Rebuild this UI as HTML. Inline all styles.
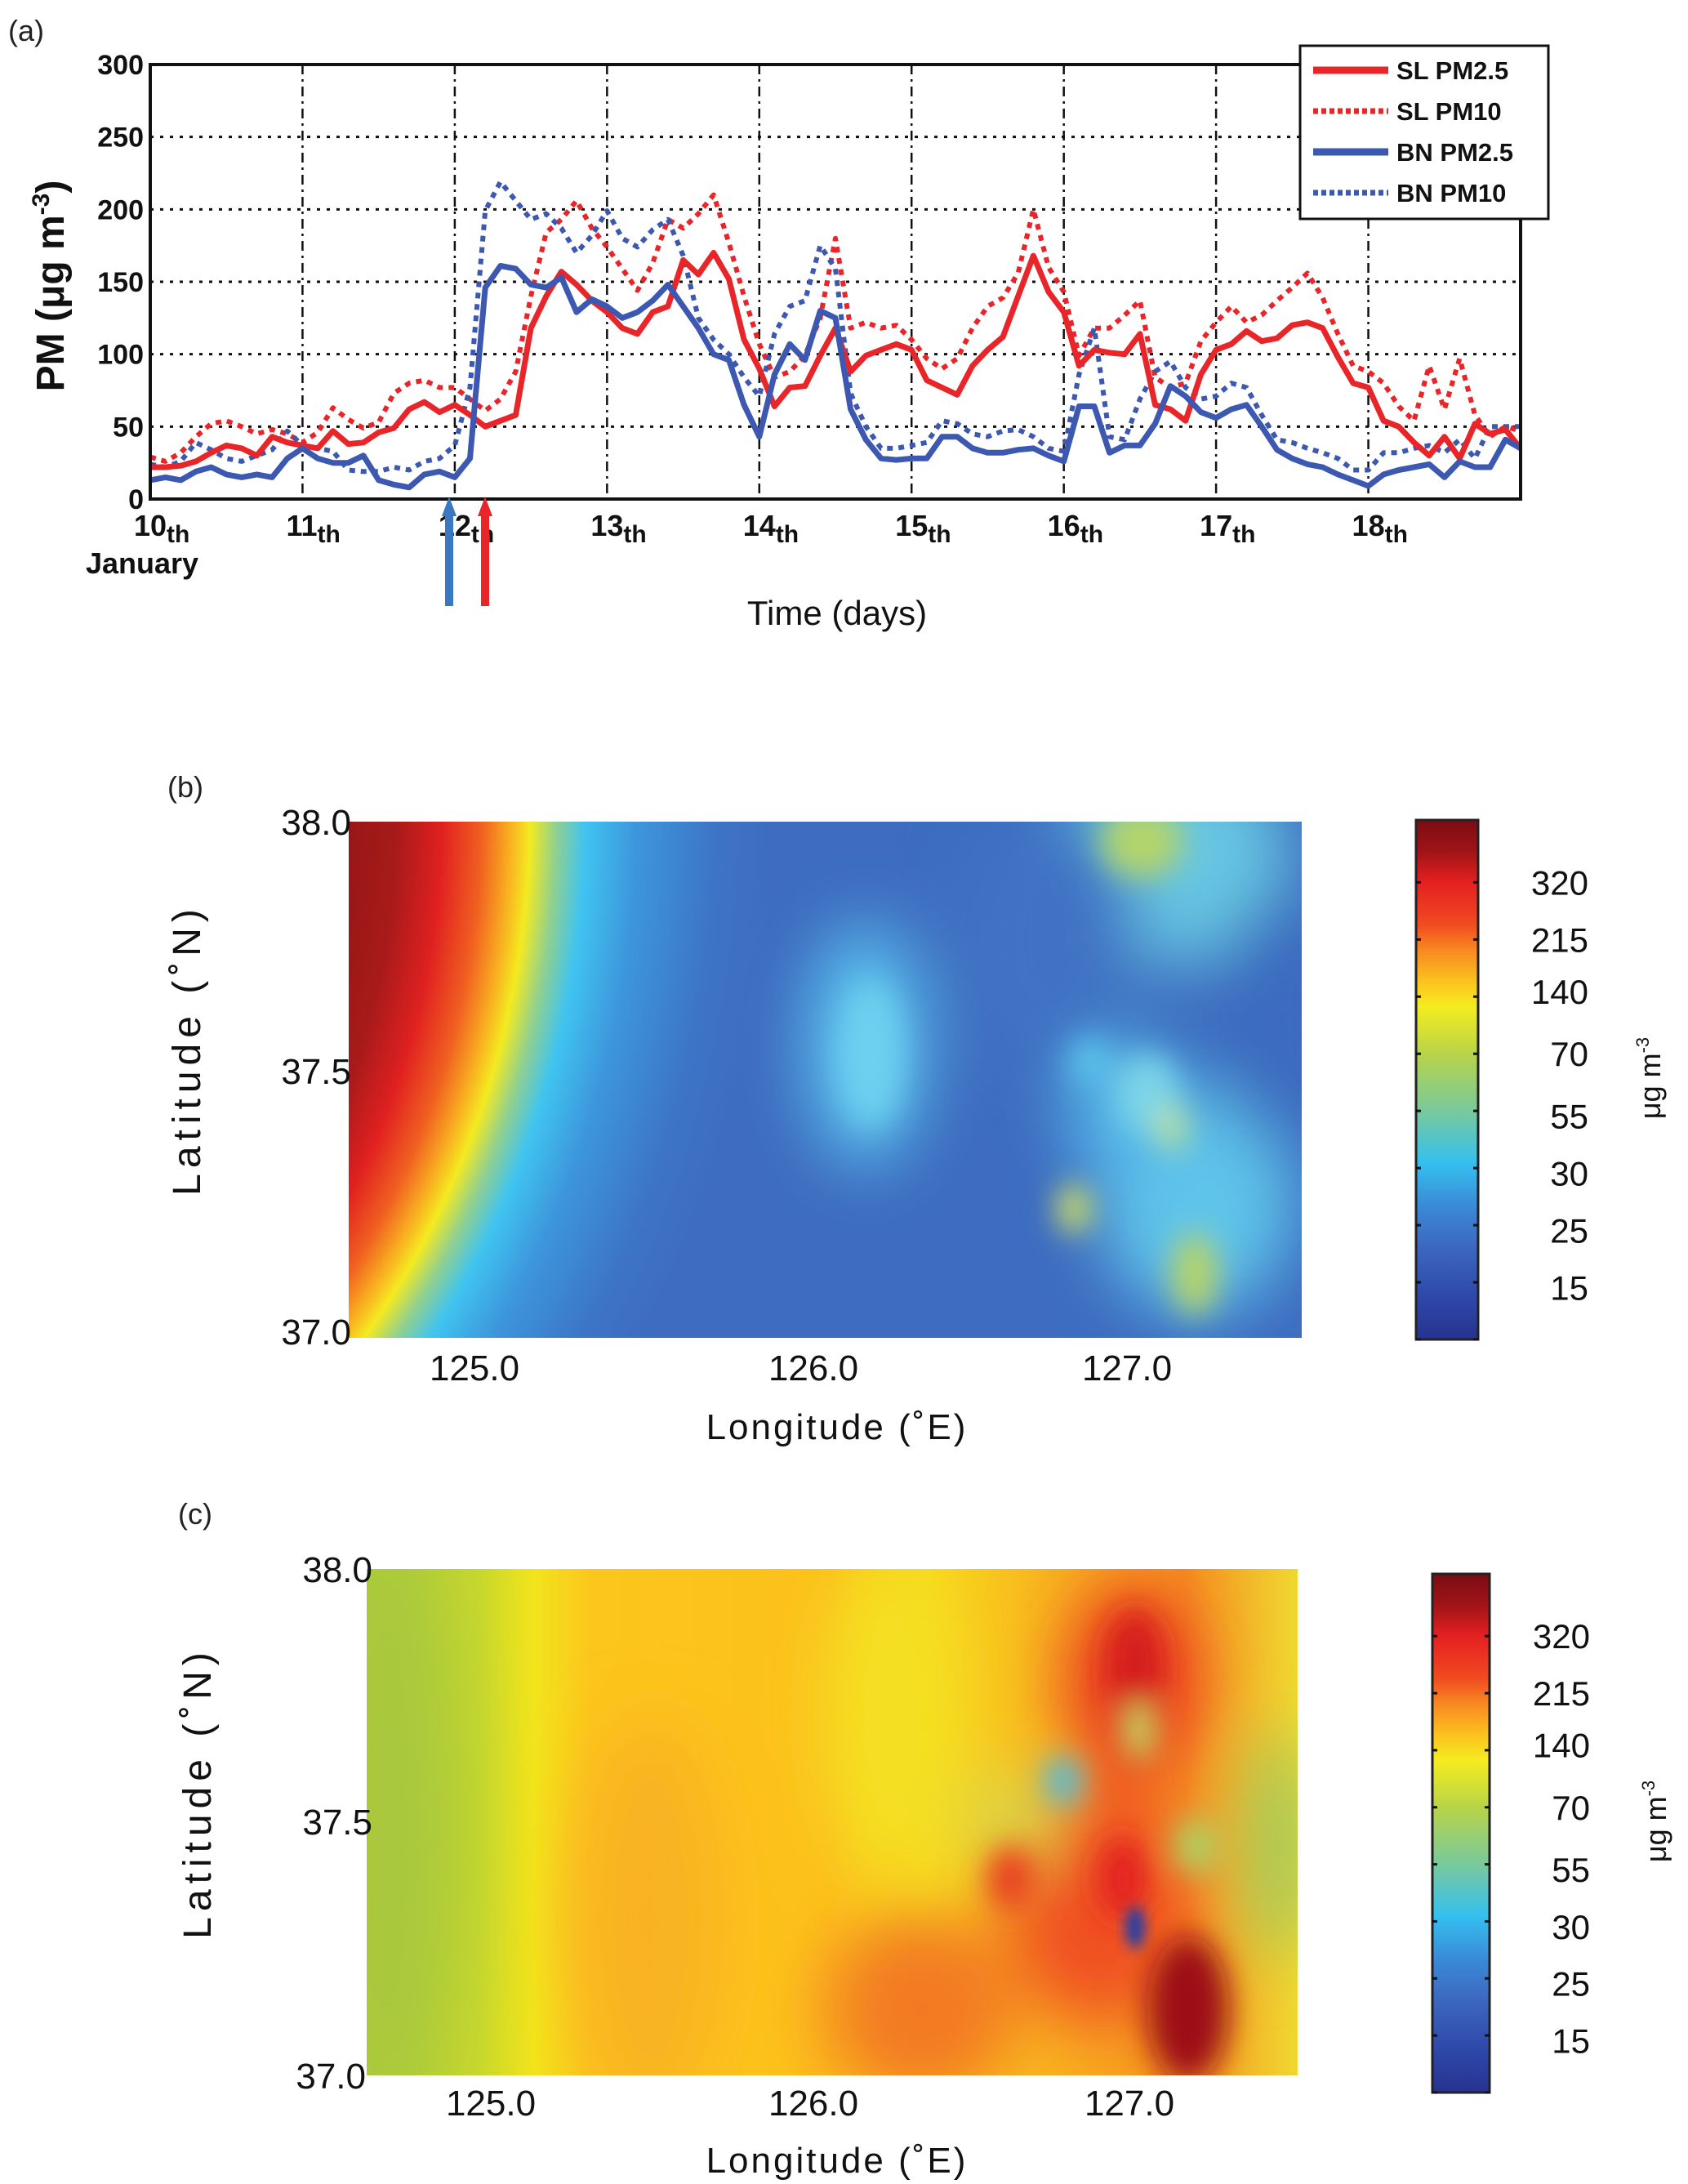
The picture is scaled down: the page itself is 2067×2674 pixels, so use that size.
<!DOCTYPE html>
<html><head><meta charset="utf-8">
<style>
html,body{margin:0;padding:0;background:#fff;}
body{width:2067px;height:2674px;position:relative;overflow:hidden;font-family:"Liberation Sans",sans-serif;}
svg{position:absolute;left:0;top:0;}
</style></head>
<body>
<svg id="fig" width="2067" height="2674" viewBox="0 0 2067 2674" xmlns="http://www.w3.org/2000/svg">
<defs>
  <filter id="blur40" x="-50%" y="-50%" width="200%" height="200%"><feGaussianBlur stdDeviation="40"/></filter>
  <filter id="blur20" x="-50%" y="-50%" width="200%" height="200%"><feGaussianBlur stdDeviation="18"/></filter>
  <filter id="blur8" x="-50%" y="-50%" width="200%" height="200%"><feGaussianBlur stdDeviation="8"/></filter>
  <radialGradient id="arcB" gradientUnits="userSpaceOnUse" cx="-453" cy="1000" r="1400">
    <stop offset="0" stop-color="#6e0a0e"/>
    <stop offset="0.6" stop-color="#8e1416"/>
    <stop offset="0.67" stop-color="#a81a1a"/>
    <stop offset="0.71" stop-color="#e02020"/>
    <stop offset="0.745" stop-color="#f06020"/>
    <stop offset="0.77" stop-color="#f8b020"/>
    <stop offset="0.787" stop-color="#f4ea20"/>
    <stop offset="0.81" stop-color="#90d090"/>
    <stop offset="0.835" stop-color="#40c4f0"/>
    <stop offset="0.88" stop-color="#3d96dc"/>
    <stop offset="0.95" stop-color="#3d74c6"/>
    <stop offset="1" stop-color="#3d6cc0"/>
  </radialGradient>
  <linearGradient id="baseC" x1="449" y1="0" x2="1589" y2="0" gradientUnits="userSpaceOnUse">
    <stop offset="0" stop-color="#b4cf34"/>
    <stop offset="0.12" stop-color="#c8d82c"/>
    <stop offset="0.18" stop-color="#f2e41c"/>
    <stop offset="0.24" stop-color="#fcc61c"/>
    <stop offset="0.5" stop-color="#fcc01c"/>
    <stop offset="0.6" stop-color="#f8d81c"/>
    <stop offset="0.75" stop-color="#f8b020"/>
    <stop offset="0.88" stop-color="#f59020"/>
    <stop offset="1" stop-color="#f0d830"/>
  </linearGradient>
  <linearGradient id="cbar" x1="0" y1="0" x2="0" y2="1">
    <stop offset="0" stop-color="#7a0c12"/>
    <stop offset="0.06" stop-color="#a01418"/>
    <stop offset="0.12" stop-color="#e42020"/>
    <stop offset="0.2" stop-color="#f04a20"/>
    <stop offset="0.25" stop-color="#f88820"/>
    <stop offset="0.31" stop-color="#fbc21e"/>
    <stop offset="0.36" stop-color="#f4ec20"/>
    <stop offset="0.45" stop-color="#b8d448"/>
    <stop offset="0.57" stop-color="#72c8a4"/>
    <stop offset="0.66" stop-color="#34c0f0"/>
    <stop offset="0.74" stop-color="#3a8cd8"/>
    <stop offset="0.82" stop-color="#3c68c0"/>
    <stop offset="0.92" stop-color="#2e48a8"/>
    <stop offset="1" stop-color="#263290"/>
  </linearGradient>
  <clipPath id="clipB"><rect x="427" y="1006" width="1167" height="632"/></clipPath>
  <clipPath id="clipC"><rect x="449" y="1921" width="1140" height="620"/></clipPath>
  <clipPath id="clipA"><rect x="184" y="79" width="1678" height="532"/></clipPath>
</defs>

<!-- Panel (a) -->
<text x="10" y="50" font-size="36" fill="#222">(a)</text>
<g id="chartA"></g>

<!-- Panel (b) -->
<text x="205" y="976" font-size="36" fill="#222">(b)</text>
<g clip-path="url(#clipB)">
  <rect x="427" y="1006" width="1167" height="632" fill="url(#arcB)"/>
  <g filter="url(#blur40)">
    <ellipse cx="1060" cy="1280" rx="75" ry="150" fill="#58bdea"/>
    <ellipse cx="1430" cy="1050" rx="150" ry="130" fill="#66c6e2"/>
    <ellipse cx="1465" cy="1470" rx="120" ry="140" fill="#5ec4ea"/>
    <ellipse cx="1375" cy="1360" rx="70" ry="90" fill="#55b8e8"/>
    <ellipse cx="1285" cy="1150" rx="110" ry="160" fill="#3f72c4"/>
    <ellipse cx="1555" cy="1250" rx="60" ry="150" fill="#3a6ac0"/>
  </g>
  <g filter="url(#blur20)">
    <ellipse cx="1398" cy="1030" rx="50" ry="45" fill="#b4d46a"/>
    <ellipse cx="1066" cy="1290" rx="40" ry="90" fill="#6ed0f0"/>
    <ellipse cx="1463" cy="1560" rx="28" ry="50" fill="#b8d468"/>
    <ellipse cx="1405" cy="1340" rx="40" ry="50" fill="#7ad4e8"/>
    <ellipse cx="1435" cy="1380" rx="20" ry="30" fill="#b8e0a0"/>
    <ellipse cx="1315" cy="1480" rx="20" ry="30" fill="#d8e060"/>
    <ellipse cx="1335" cy="1300" rx="25" ry="30" fill="#5ac4ec"/>
  </g>
</g>
<g font-size="44" fill="#111" text-anchor="end">
  <text x="430" y="1022">38.0</text>
  <text x="430" y="1327">37.5</text>
  <text x="430" y="1646">37.0</text>
</g>
<g font-size="44" fill="#111" text-anchor="middle">
  <text x="581" y="1690">125.0</text>
  <text x="996" y="1690">126.0</text>
  <text x="1380" y="1690">127.0</text>
</g>
<text x="1025" y="1762" font-size="44" text-anchor="middle" fill="#111" letter-spacing="3">Longitude (˚E)</text>
<text transform="translate(245,1285) rotate(-90)" font-size="48" text-anchor="middle" fill="#111" letter-spacing="7">Latitude (˚N)</text>
<g>
  <rect x="1734" y="1004" width="76" height="636" fill="url(#cbar)" stroke="#222" stroke-width="3"/>
</g>
<g id="cbB"></g>
<text transform="translate(2033,1320) rotate(-90)" font-size="36" text-anchor="middle" fill="#111">μg m<tspan dy="-14" font-size="22">-3</tspan></text>

<!-- Panel (c) -->
<text x="218" y="1866" font-size="36" fill="#222">(c)</text>
<g clip-path="url(#clipC)">
  <rect x="449" y="1921" width="1140" height="620" fill="url(#baseC)"/>
  <g filter="url(#blur40)">
    <ellipse cx="476" cy="2230" rx="80" ry="400" fill="#a8c83c"/>
    <ellipse cx="795" cy="2350" rx="90" ry="250" fill="#f9b220"/>
    <ellipse cx="1090" cy="2100" rx="80" ry="200" fill="#f4e020"/>
    <ellipse cx="1130" cy="2460" rx="120" ry="120" fill="#f37a20"/>
    <ellipse cx="1385" cy="2060" rx="80" ry="120" fill="#ea3a20"/>
    <ellipse cx="1345" cy="2330" rx="110" ry="150" fill="#f05020"/>
    <ellipse cx="1565" cy="2260" rx="40" ry="140" fill="#9cc860"/>
    <ellipse cx="1238" cy="2230" rx="60" ry="60" fill="#d8d848"/>
  </g>
  <g filter="url(#blur20)">
    <ellipse cx="1390" cy="2040" rx="35" ry="70" fill="#d41c1c"/>
    <ellipse cx="1455" cy="2460" rx="50" ry="90" fill="#9c1014"/>
    <ellipse cx="1375" cy="2300" rx="30" ry="50" fill="#e22020"/>
    <ellipse cx="1302" cy="2180" rx="22" ry="30" fill="#48c0e8"/>
    <ellipse cx="1395" cy="2120" rx="20" ry="35" fill="#c0dc60"/>
    <ellipse cx="1465" cy="2260" rx="28" ry="35" fill="#b0d060"/>
    <ellipse cx="1238" cy="2300" rx="30" ry="40" fill="#e84020"/>
  </g>
  <g filter="url(#blur8)">
    <ellipse cx="1390" cy="2360" rx="12" ry="26" fill="#2040a8"/>
  </g>
</g>
<g font-size="44" fill="#111" text-anchor="end">
  <text x="456" y="1937">38.0</text>
  <text x="456" y="2246">37.5</text>
  <text x="448" y="2557">37.0</text>
</g>
<g font-size="44" fill="#111" text-anchor="middle">
  <text x="601" y="2590">125.0</text>
  <text x="996" y="2590">126.0</text>
  <text x="1383" y="2590">127.0</text>
</g>
<text x="1025" y="2660" font-size="44" text-anchor="middle" fill="#111" letter-spacing="3">Longitude (˚E)</text>
<text transform="translate(258,2195) rotate(-90)" font-size="48" text-anchor="middle" fill="#111" letter-spacing="7">Latitude (˚N)</text>
<g>
  <rect x="1754" y="1927" width="70" height="635" fill="url(#cbar)" stroke="#222" stroke-width="3"/>
</g>
<g id="cbC"></g>
<text transform="translate(2040,2230) rotate(-90)" font-size="36" text-anchor="middle" fill="#111">μg m<tspan dy="-14" font-size="22">-3</tspan></text>
</svg>

<script>
const times = [];
for (let i = 0; i <= 90; i++) times.push(10 + i / 10);
const slPM25 = [22,22,23,26,32,37,35,30,43,39, 37,35,47,38,39,46,49,62,67,60, 65,58,50,54,58,118,140,157,148,137, 129,118,114,129,133,165,155,170,152,110, 90,64,77,78,99,118,88,99,103,107, 103,82,77,72,92,103,112,140,168,143, 129,92,103,101,100,114,65,62,54,86, 103,107,116,109,111,120,122,118,98,80, 77,54,50,39,30,43,28,52,45,48, 35];
const slPM10 = [29,26,32,43,52,54,50,45,48,45, 39,46,63,55,49,53,73,80,82,77, 77,69,61,69,88,140,184,193,206,187, 174,159,144,163,193,187,197,210,177,140, 107,84,88,99,125,180,118,122,118,120, 110,97,90,97,118,133,139,156,200,160, 143,99,118,118,127,137,84,77,80,109, 122,133,122,127,137,146,156,139,114,92, 88,80,64,54,92,62,97,58,43,50, 47];
const bnPM25 = [13,15,13,19,22,17,15,17,15,28, 35,28,25,25,30,13,10,8,17,19, 15,28,146,161,159,148,146,153,129,138, 133,125,129,137,148,133,118,100,96,65, 43,86,107,96,130,125,62,41,28,27, 28,28,43,43,35,32,32,34,35,30, 26,64,64,32,37,37,52,78,71,60, 56,62,65,50,34,28,24,22,17,13, 9,17,20,22,24,15,26,22,22,41, 35];
const bnPM10 = [24,22,26,39,34,28,26,30,34,47, 37,35,33,20,19,19,22,20,26,28, 37,77,199,219,206,193,197,187,170,182, 199,180,174,186,193,168,125,110,100,84, 71,114,133,137,175,159,73,50,35,35, 37,39,54,52,45,43,47,48,43,35, 33,86,118,43,41,69,88,95,77,69, 71,80,77,58,41,39,35,32,28,20, 20,32,32,35,37,32,41,28,50,50, 50];
const yTicks = [0,50,100,150,200,250,300];
const dayTicks = [10,11,12,13,14,15,16,17,18];
const cbLabels = ["320","215","140","70","55","30","25","15"];
const cbFrac = [0.12,0.23,0.33,0.45,0.57,0.68,0.79,0.90];

const NS = "http://www.w3.org/2000/svg";
const X0 = 184, X1 = 1862, Y0 = 611, Y1 = 79;
const xS = d => X0 + (d - 10) / 9 * (X1 - X0);
const yS = v => Y0 - v / 300 * (Y0 - Y1);
function mk(tag, attrs, parent) {
  const e = document.createElementNS(NS, tag);
  for (const k in attrs) e.setAttribute(k, attrs[k]);
  parent.appendChild(e);
  return e;
}
const g = document.getElementById("chartA");

yTicks.forEach(v => {
  if (v > 0 && v < 300) {
    const l = mk("line", {x1: X0, x2: X1, y1: yS(v), y2: yS(v), stroke: "#111", "stroke-width": 3, "stroke-dasharray": "4 8"}, g);
    
    
  }
  const t = mk("text", {x: X0 - 8, y: yS(v) + 12, "text-anchor": "end", "font-size": 34, "font-weight": "bold", fill: "#111"}, g);
  t.textContent = v;
  
  
});
dayTicks.forEach(d => {
  if (d > 10) {
    const l = mk("line", {x1: xS(d), x2: xS(d), y1: Y1, y2: Y0, stroke: "#111", "stroke-width": 2.5, "stroke-dasharray": "12 6 3 6"}, g);
    
    
  }
  const t = mk("text", {x: xS(d) - 20, y: 656, "font-size": 36, "font-weight": "bold", fill: "#111"}, g);
  t.textContent = String(d);
  const s = mk("tspan", {dy: 8, "font-size": 30}, t);
  s.textContent = "th";
  
  
});

function series(vals, color, dashed, name) {
  let d = "";
  vals.forEach((v, i) => { d += (i ? "L" : "M") + xS(times[i]).toFixed(1) + "," + yS(v).toFixed(1); });
  const attrs = {d: d, fill: "none", stroke: color, "stroke-width": dashed ? 6 : 7, "stroke-linejoin": "round", "clip-path": "url(#clipA)"};
  if (dashed) attrs["stroke-dasharray"] = "7 7";
  const p = mk("path", attrs, g);
  
  
}
series(slPM10, "#e8262a", true, "sl-pm10-line");
series(bnPM10, "#3c58b0", true, "bn-pm10-line");
series(slPM25, "#e8262a", false, "sl-pm25-line");
series(bnPM25, "#3c58b0", false, "bn-pm25-line");

const box = mk("rect", {x: X0, y: Y1, width: X1 - X0, height: Y0 - Y1, fill: "none", stroke: "#111", "stroke-width": 4}, g);



function arrow(x, color, name) {
  const a = mk("g", {}, g);
  mk("rect", {x: x - 5, y: 628, width: 10, height: 114, fill: color}, a);
  mk("polygon", {points: (x - 9) + ",632 " + (x + 9) + ",632 " + x + ",608", fill: color}, a);
  
  
}
arrow(550, "#3a78c0", "bn-onset-arrow");
arrow(594, "#e8262a", "sl-onset-arrow");

const jan = mk("text", {x: 105, y: 702, "font-size": 36, "font-weight": "bold", fill: "#111"}, g);
jan.textContent = "January";


const xt = mk("text", {x: 1025, y: 765, "font-size": 42, "text-anchor": "middle", fill: "#111"}, g);
xt.textContent = "Time (days)";


const yt = mk("text", {transform: "translate(78,350) rotate(-90)", "font-size": 48, "font-weight": "bold", "text-anchor": "middle", fill: "#111"}, g);
yt.textContent = "PM (μg m";
const sup = mk("tspan", {dy: -18, "font-size": 30}, yt);
sup.textContent = "-3";
const cl = mk("tspan", {dy: 18}, yt);
cl.textContent = ")";



const lg = mk("g", {}, g);


mk("rect", {x: 1592, y: 56, width: 304, height: 212, fill: "#fff", stroke: "#111", "stroke-width": 3}, lg);
const legNames = ["SL PM2.5", "SL PM10", "BN PM2.5", "BN PM10"];
const legColors = ["#e8262a", "#e8262a", "#3c58b0", "#3c58b0"];
const legDash = [false, true, false, true];
legNames.forEach((n, i) => {
  const y = 86 + i * 50;
  const e = mk("g", {}, lg);
  const la = {x1: 1608, x2: 1700, y1: y, y2: y, stroke: legColors[i], "stroke-width": legDash[i] ? 7 : 9};
  if (legDash[i]) la["stroke-dasharray"] = "6 4";
  mk("line", la, e);
  const t = mk("text", {x: 1710, y: y + 11, "font-size": 31, "font-weight": "bold", fill: "#111"}, e);
  t.textContent = n;
  
  
});

function cbar(id, x0, w, top, h, lx) {
  const c = document.getElementById(id);
  cbLabels.forEach((lab, i) => {
    const y = top + cbFrac[i] * h;
    const t = mk("text", {x: lx, y: y + 15, "font-size": 42, "text-anchor": "end", fill: "#111"}, c);
    t.textContent = lab;
    
    
  });
  for (let i = 0; i < 9; i++) {
    const y = top + (0.12 + i * 0.11) * h;
    if (y > top + h) break;
    const tk = mk("g", {}, c);
    mk("line", {x1: x0, x2: x0 + 6, y1: y, y2: y, stroke: "#111", "stroke-width": 3}, tk);
    mk("line", {x1: x0 + w - 6, x2: x0 + w, y1: y, y2: y, stroke: "#111", "stroke-width": 3}, tk);
    
    
  }
}
cbar("cbB", 1734, 76, 1004, 636, 1945);
cbar("cbC", 1754, 70, 1927, 635, 1947);
</script>
</body></html>
